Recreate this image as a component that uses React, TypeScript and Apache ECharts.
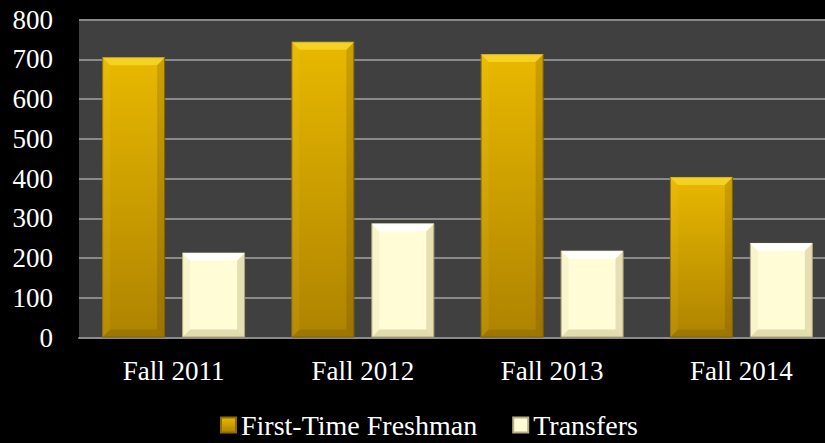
import React, { useEffect, useRef } from "react";
import * as echarts from "echarts";

const categories = ["Fall 2011", "Fall 2012", "Fall 2013", "Fall 2014"];
const freshman = [705, 744, 713, 404];
const transfers = [213, 287, 218, 238];
const seriesNames = ["First-Time Freshman", "Transfers"];
const yMin = 0;
const yMax = 800;
const yInterval = 100;

const FONT = "'Liberation Serif', 'Times New Roman', serif";
const CAT_GAP = 0.245;
const BAR_GAP = 0.27;

function bevelRenderer(sign: number, kind: "gold" | "cream") {
  return (params: any, api: any) => {
    const idx = api.value(0);
    const val = api.value(1);
    const top = api.coord([idx, val]);
    const base = api.coord([idx, 0]);
    const band = api.size([1, 0])[0];
    const bw = (band * (1 - CAT_GAP)) / (2 + BAR_GAP);
    const cx = top[0] + (sign * bw * (1 + BAR_GAP)) / 2;
    const x0 = cx - bw / 2;
    const x1 = cx + bw / 2;
    const y0 = top[1];
    const y1 = base[1];
    const b = Math.min(8, (y1 - y0) / 3);
    const topFill = kind === "gold" ? "rgba(255,226,60,0.6)" : "rgba(255,255,255,0.9)";
    const leftFill = kind === "gold" ? "rgba(255,220,60,0.10)" : "rgba(160,150,90,0.08)";
    const rightFill = kind === "gold" ? "rgba(60,40,0,0.16)" : "rgba(140,125,60,0.22)";
    const botFill = kind === "gold" ? "rgba(60,40,0,0.14)" : "rgba(140,125,60,0.25)";
    return {
      type: "group",
      children: [
        {
          type: "polygon",
          shape: { points: [[x0, y0], [x1, y0], [x1 - b, y0 + b], [x0 + b, y0 + b]] },
          style: { fill: topFill },
        },
        {
          type: "polygon",
          shape: { points: [[x0, y0], [x0 + b, y0 + b], [x0 + b, y1 - b], [x0, y1]] },
          style: { fill: leftFill },
        },
        {
          type: "polygon",
          shape: { points: [[x1, y0], [x1, y1], [x1 - b, y1 - b], [x1 - b, y0 + b]] },
          style: { fill: rightFill },
        },
        {
          type: "polygon",
          shape: { points: [[x0, y1], [x1, y1], [x1 - b, y1 - b], [x0 + b, y1 - b]] },
          style: { fill: botFill },
        },
      ],
    };
  };
}

export default function App() {
  const ref = useRef<HTMLDivElement>(null);
  useEffect(() => {
    if (!ref.current) return;
    const chart = echarts.init(ref.current, null, { renderer: "svg" });
    const goldGrad = new echarts.graphic.LinearGradient(0, 0, 0, 1, [
      { offset: 0, color: "#E8B800" },
      { offset: 1, color: "#AE8300" },
    ]);
    const creamColor = "#FFFCD6";
    chart.setOption({
      animation: false,
      backgroundColor: "#000000",
      textStyle: { fontFamily: FONT },
      grid: {
        left: 79,
        width: 757,
        top: 19.5,
        bottom: 105.5,
        show: true,
        backgroundColor: "#404040",
        borderWidth: 0,
        containLabel: false,
        outerBoundsMode: "none",
      },
      legend: {
        data: seriesNames,
        left: 215,
        top: 406,
        itemWidth: 15,
        itemHeight: 15,
        itemGap: 35,
        icon: "rect",
        textStyle: { color: "#ffffff", fontSize: 28, fontFamily: FONT },
      },
      xAxis: {
        type: "category",
        data: categories,
        axisLine: { show: true, lineStyle: { color: "#8a8a8a", width: 2 } },
        axisTick: { show: false },
        axisLabel: { color: "#ffffff", fontSize: 27, fontFamily: FONT, margin: 20 },
      },
      yAxis: {
        type: "value",
        min: yMin,
        max: yMax,
        interval: yInterval,
        axisLine: { show: false },
        axisTick: { show: false },
        splitLine: { lineStyle: { color: "#8a8a8a", width: 2 } },
        axisLabel: { color: "#ffffff", fontSize: 27, fontFamily: FONT, margin: 26 },
      },
      series: [
        {
          name: seriesNames[0],
          type: "bar",
          data: freshman,
          barCategoryGap: CAT_GAP * 100 + "%",
          barGap: BAR_GAP * 100 + "%",
          itemStyle: { color: goldGrad, borderColor: "#8f6c00", borderWidth: 1 },
        },
        {
          name: seriesNames[1],
          type: "bar",
          data: transfers,
          barCategoryGap: CAT_GAP * 100 + "%",
          barGap: BAR_GAP * 100 + "%",
          itemStyle: { color: creamColor, borderColor: "#b8ae80", borderWidth: 1 },
        },
        {
          name: "bevel-f",
          type: "custom",
          silent: true,
          z: 5,
          renderItem: bevelRenderer(-1, "gold"),
          encode: { x: 0, y: 1 },
          data: freshman.map((v, i) => [i, v]),
        },
        {
          name: "bevel-t",
          type: "custom",
          silent: true,
          z: 5,
          renderItem: bevelRenderer(1, "cream"),
          encode: { x: 0, y: 1 },
          data: transfers.map((v, i) => [i, v]),
        },
      ],
    });
    return () => chart.dispose();
  }, []);
  return (
    <div
      ref={ref}
      style={{ position: "fixed", left: 0, top: 0, width: 825, height: 443 }}
    />
  );
}
